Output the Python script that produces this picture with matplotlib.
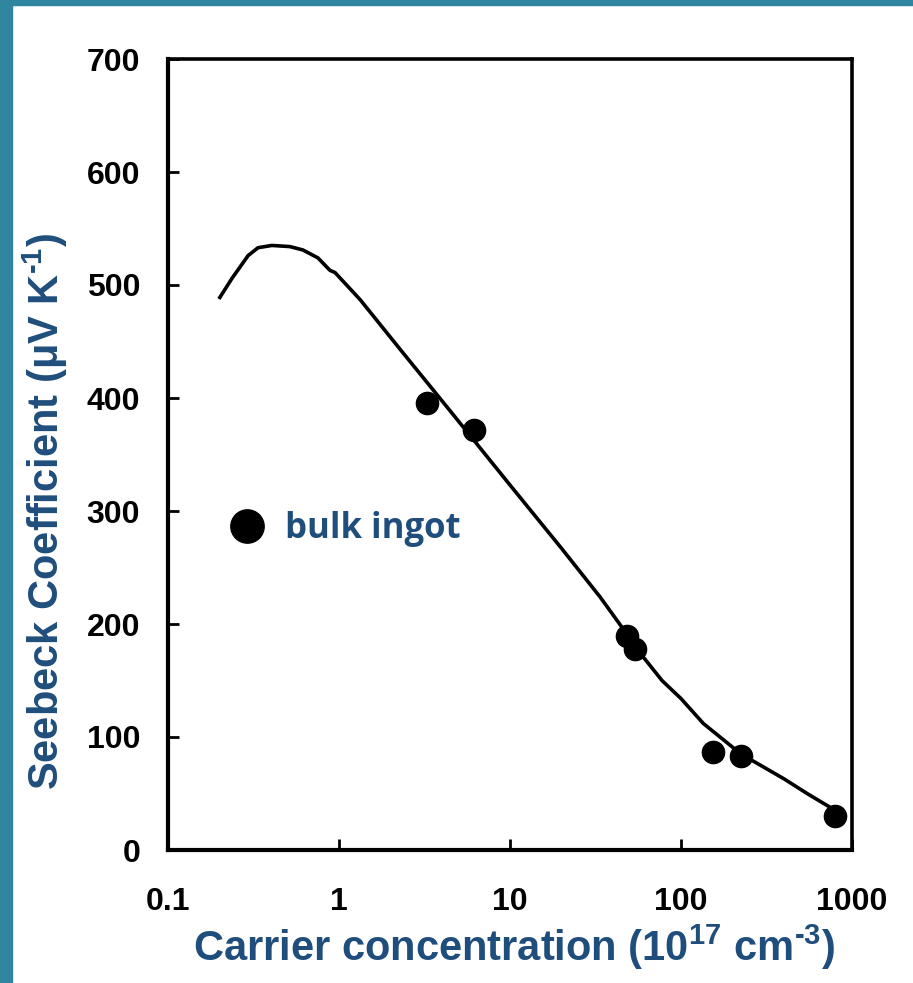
import matplotlib
matplotlib.use("Agg")
import matplotlib.pyplot as plt
from matplotlib.patches import Rectangle
from matplotlib.ticker import FixedLocator, FixedFormatter

# ---- data ----
ingot_n = [3.27, 6.15, 48.3, 53.8, 154, 224, 796]
ingot_S = [396, 372, 189, 178, 87, 83, 30]

curve_n = [0.201, 0.237, 0.294, 0.336, 0.405, 0.516, 0.615, 0.753, 0.885, 0.948,
           1.33, 2.28, 4.5, 10, 20, 33.6, 48.3, 53.8, 77.4, 100, 135, 224,
           400, 546, 760]
curve_S = [489, 506, 526, 533, 535, 534, 531, 524, 513, 511,
           487, 443, 388, 323, 267, 224, 191, 180, 150, 134, 112, 85,
           63, 50, 37]

x_ticks = [0.1, 1, 10, 100, 1000]
x_ticklabels = ["0.1", "1", "10", "100", "1000"]
y_ticks = [0, 100, 200, 300, 400, 500, 600, 700]

BLUE = "#1F4E7C"
TEAL = "#31869F"

plt.rcParams["font.family"] = ["Liberation Sans", "DejaVu Sans"]
plt.rcParams["mathtext.fontset"] = "custom"
plt.rcParams["mathtext.rm"] = "Liberation Sans:bold"
plt.rcParams["mathtext.bf"] = "Liberation Sans:bold"
plt.rcParams["mathtext.it"] = "Liberation Sans:bold"
plt.rcParams["mathtext.default"] = "bf"

fig = plt.figure(figsize=(9.13, 9.83), dpi=100)
fig.patches.append(Rectangle((0, 0), 12 / 913, 1, transform=fig.transFigure,
                             color=TEAL, zorder=0))
fig.patches.append(Rectangle((0, 1 - 5 / 983), 1, 5 / 983, transform=fig.transFigure,
                             color=TEAL, zorder=0))

ax = fig.add_axes([168 / 913, 1 - 850 / 983, (852 - 168) / 913, (850 - 59) / 983])

ax.plot(curve_n, curve_S, color="black", lw=2.6, zorder=2)
ax.plot(ingot_n, ingot_S, "o", color="black", ms=16, ls="none", zorder=3,
        label="bulk ingot")

ax.set_xscale("log")
ax.set_xlim(0.1, 1000)
ax.set_ylim(0, 700)
ax.xaxis.set_major_locator(FixedLocator(x_ticks))
ax.xaxis.set_major_formatter(FixedFormatter(x_ticklabels))
ax.xaxis.set_minor_locator(FixedLocator([]))
ax.set_yticks(y_ticks)

ax.tick_params(axis="both", which="major", direction="in", length=8, width=2,
               labelsize=23)
ax.tick_params(axis="y", pad=20)
ax.tick_params(axis="x", pad=27)
for lab in ax.get_xticklabels() + ax.get_yticklabels():
    lab.set_fontweight("bold")

for s in ["left", "bottom"]:
    ax.spines[s].set_linewidth(3)
for s in ["top", "right"]:
    ax.spines[s].set_linewidth(2.6)

ax.set_xlabel("Carrier concentration (10$^{17}$ cm$^{\u2010 3}$)",
              fontsize=30, fontweight="bold", color=BLUE)
ax.xaxis.set_label_coords((514 - 168) / 684, -(947 - 850) / 791)
ax.set_ylabel("Seebeck Coefficient (\u03bcV K$^{\u2010 1}$)",
              fontsize=30, fontweight="bold", color=BLUE)
ax.yaxis.set_label_coords(-(168 - 45) / 684, (850 - 511) / 791)
ax.xaxis.label.set_va("center")
ax.yaxis.label.set_va("center")

leg = ax.legend(loc="center left", bbox_to_anchor=(0.095, 0.406), frameon=False,
                borderaxespad=0, borderpad=0,
                markerscale=1.5, handlelength=0.8, handletextpad=0.7,
                prop={"family": "Open Sans", "weight": "bold", "size": 25},
                labelcolor=BLUE)

fig.savefig("out.png", dpi=100, facecolor="white")
